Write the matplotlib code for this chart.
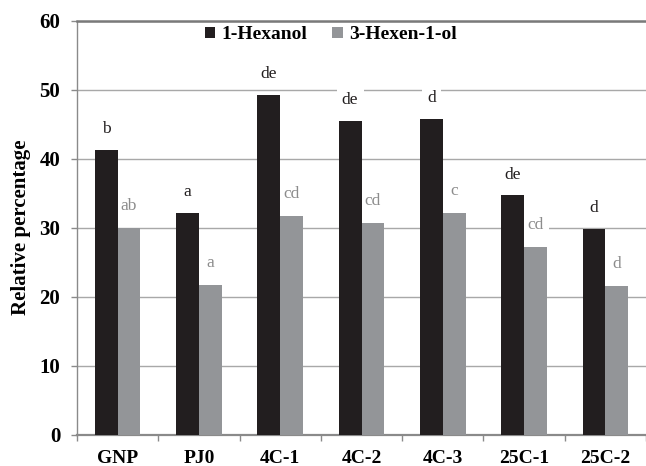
import matplotlib
matplotlib.use("Agg")
import matplotlib.pyplot as plt
import numpy as np

categories = ["GNP", "PJ0", "4C-1", "4C-2", "4C-3", "25C-1", "25C-2"]
hexanol = [41.3, 32.2, 49.3, 45.5, 45.8, 34.7, 29.8]
hexenol = [30.0, 21.7, 31.7, 30.7, 32.1, 27.2, 21.5]
hexanol_letters = ["b", "a", "de", "de", "d", "de", "d"]
hexenol_letters = ["ab", "a", "cd", "cd", "c", "cd", "d"]
series_names = ["1-Hexanol", "3-Hexen-1-ol"]
y_ticks = [0, 10, 20, 30, 40, 50, 60]

serif = "Liberation Serif"
black = "#221e1f"
gray = "#939598"
grid_c = "#a8a8a8"
axis_c = "#8a8a8a"

W, H = 646, 466
fig = plt.figure(figsize=(W / 100, H / 100), dpi=100)
left, right, top, bottom = 77, 646, 20.7, 434.7
ax = fig.add_axes([left / W, (H - bottom) / H, (right - left) / W, (bottom - top) / H])

x = np.arange(len(categories))
bw = 0.28
ax.bar(x - bw / 2, hexanol, bw, color=black, label=series_names[0], zorder=3)
ax.bar(x + bw / 2, hexenol, bw, color=gray, label=series_names[1], zorder=3)

ax.set_xlim(-0.5, len(categories) - 0.5)
ax.set_ylim(0, 60)
ax.set_yticks(y_ticks)
ax.set_yticklabels([str(v) for v in y_ticks], fontfamily=serif, fontweight="bold", fontsize=15)
ax.set_xticks(x)
ax.set_xticklabels(categories, fontfamily=serif, fontweight="bold", fontsize=14)
ax.set_xticks(np.arange(-0.5, len(categories)), minor=True)
ax.tick_params(axis="x", which="major", length=0, pad=11)
ax.tick_params(axis="x", which="minor", length=4, color=axis_c, width=1)
ax.tick_params(axis="y", length=4, color=axis_c, width=1, pad=8)

ax.yaxis.grid(True, color=grid_c, lw=1, zorder=0)
ax.set_axisbelow(True)
ax.spines["right"].set_visible(False)
ax.spines["top"].set_color("#7a7a7a")
ax.spines["top"].set_linewidth(1.8)
ax.spines["left"].set_color(axis_c)
ax.spines["left"].set_linewidth(1)
ax.spines["bottom"].set_color(axis_c)
ax.spines["bottom"].set_linewidth(1.6)

ax.set_ylabel("Relative percentage", fontfamily=serif, fontweight="bold", fontsize=15, labelpad=6)

# letter labels sit above the gridlines but under the bars
box = dict(boxstyle="square,pad=0.3", fc="white", ec="none")
for xi, v, t in zip(x, hexanol, hexanol_letters):
    ax.text(xi - bw / 2, v + 3.0, t, ha="center", va="center", fontfamily=serif,
            fontsize=12.5, color=black, bbox=box, zorder=2)
for xi, v, t in zip(x, hexenol, hexenol_letters):
    ax.text(xi + bw / 2, v + 3.2, t, ha="center", va="center", fontfamily=serif,
            fontsize=12.5, color="#8c8c8c", bbox=box, zorder=2)

ax.legend(loc="center", bbox_to_anchor=(0.4455, 0.9655), ncol=2, frameon=False,
          prop=dict(family=serif, weight="bold", size=14),
          handlelength=0.55, handleheight=0.55, handletextpad=0.3, columnspacing=1.3)

fig.savefig("out.png", dpi=100)
